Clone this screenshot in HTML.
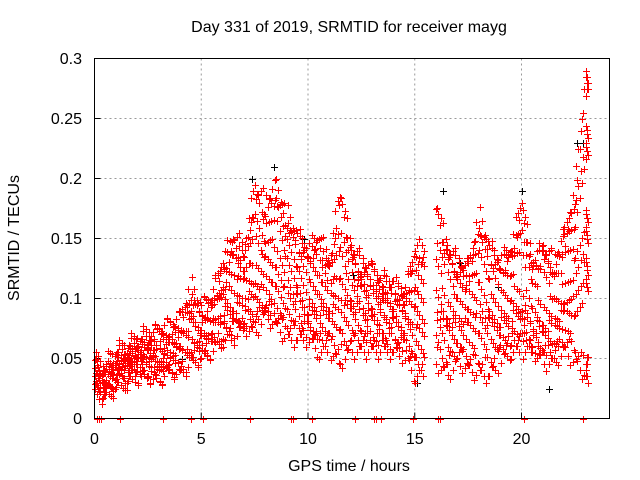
<!DOCTYPE html>
<html><head><meta charset="utf-8"><style>
body{margin:0;background:#fff;}
svg{display:block;font-family:"Liberation Sans",sans-serif;}
</style></head><body>
<svg id="chart" width="640" height="480" xmlns="http://www.w3.org/2000/svg">
<rect width="640" height="480" fill="#fff"/>
<text x="349" y="32" font-size="16" text-anchor="middle">Day 331 of 2019, SRMTID for receiver mayg</text>
<text x="349" y="471" font-size="16" text-anchor="middle">GPS time / hours</text>
<text transform="translate(19,238) rotate(-90)" font-size="16" text-anchor="middle">SRMTID / TECUs</text>
<g id="grid"></g><g id="ticks"></g><g id="pts"></g>
<rect x="94.5" y="58.5" width="515" height="360" fill="none" stroke="#000" stroke-width="1"/>
</svg>
<script>
const hours=[0,0.5,1,1.5,2,2.5,3,3.5,4,4.5,5,5.5,6,6.5,7,7.5,8,8.5,9,9.5,10,10.5,11,11.5,12,12.5,13,13.5,14,14.5,15,15.5,16,16.5,17,17.5,18,18.5,19,19.5,20,20.5,21,21.5,22,22.5,23];
const hiVals=[.05,.045,.06,.065,.07,.075,.08,.085,.09,.12,.10,.11,.14,.16,.15,.20,.19,.20,.18,.16,.15,.16,.14,.20,.15,.14,.13,.12,.12,.11,.15,null,.19,.15,.14,.13,.18,.15,.14,.15,.19,.14,.15,.14,.16,.20,.29];
const q3Vals=[.042,.04,.05,.055,.06,.065,.065,.07,.075,.09,.085,.095,.12,.13,.13,.16,.15,.17,.15,.14,.13,.13,.12,.15,.13,.12,.115,.11,.105,.10,.12,null,.14,.13,.12,.12,.14,.13,.12,.13,.15,.12,.13,.125,.14,.16,.23];
const midVals=[.035,.03,.04,.045,.05,.055,.05,.058,.062,.07,.07,.08,.10,.10,.11,.12,.125,.13,.12,.11,.10,.10,.10,.11,.105,.10,.095,.09,.09,.085,.09,null,.10,.09,.09,.095,.10,.09,.09,.095,.10,.085,.085,.09,.10,.12,.16];
const q1Vals=[.028,.025,.033,.038,.042,.045,.04,.048,.05,.055,.06,.065,.08,.08,.09,.095,.10,.10,.095,.09,.08,.08,.08,.085,.085,.08,.075,.075,.07,.07,.065,null,.08,.07,.07,.07,.075,.07,.07,.075,.08,.07,.065,.07,.08,.09,.12];
const loVals=[.02,.015,.025,.03,.03,.03,.025,.035,.03,.04,.045,.05,.06,.06,.07,.065,.08,.07,.06,.06,.06,.05,.05,.04,.05,.05,.05,.05,.05,.045,.03,null,.04,.03,.04,.035,.03,.03,.04,.05,.05,.05,.04,.04,.05,.04,.03];
const zeroHours=[0.1,0.2,0.3,1.2,3.2,4.5,5.1,7.3,9.2,9.3,10.2,12.2,13.1,13.2,13.4,14.9,16.1,16.2,20.1,22.9];
const blackHours=[0.2,4.1,6.5,7.4,8.4,9.8,12.1,15.1,16.3,17.1,18.9,20.0,21.3,22.6,22.9];
const blackVals=[.04,.05,.15,.20,.21,.15,.12,.03,.19,.13,.11,.19,.025,.23,.23];
const yTicks=[0,0.05,0.1,0.15,0.2,0.25,0.3];
const yLabels=["0","0.05","0.1","0.15","0.2","0.25","0.3"];
const xTicks=[0,5,10,15,20];
const xLabels=["0","5","10","15","20"];
const NS="http://www.w3.org/2000/svg";
const X=t=>94.5+t*21.35, Y=v=>418.5-v*1200;
function mk(tag,attrs,parent){const e=document.createElementNS(NS,tag);for(const k in attrs)e.setAttribute(k,attrs[k]);parent.appendChild(e);return e;}
const grid=document.getElementById('grid'),ticks=document.getElementById('ticks'),pts=document.getElementById('pts');
yTicks.forEach((v,i)=>{
  if(i>0&&i<yTicks.length-1){const g=mk('line',{x1:94.5,x2:609.5,y1:Y(v),y2:Y(v),stroke:'#999','stroke-dasharray':'2,3'},grid);
  
  }
  const l=mk('line',{x1:94.5,x2:100.5,y1:Y(v),y2:Y(v),stroke:'#000'},ticks);
  
  
  const t=mk('text',{x:82,y:Y(v)+5.5,'font-size':16,'text-anchor':'end'},ticks);t.textContent=yLabels[i];
  
  
});
xTicks.forEach((h,i)=>{
  if(i>0){const g=mk('line',{x1:X(h),x2:X(h),y1:58.5,y2:418.5,stroke:'#999','stroke-dasharray':'2,3'},grid);
  
  }
  const l=mk('line',{x1:X(h),x2:X(h),y1:418.5,y2:412.5,stroke:'#000'},ticks);
  
  
  const t=mk('text',{x:X(h),y:444,'font-size':16,'text-anchor':'middle'},ticks);t.textContent=xLabels[i];
  
  
});
function plus(t,v,col,name){
  const x=Math.round(X(t))+0.5,y=Math.round(Y(v))+0.5;
  const p=mk('path',{d:`M${x-3.5} ${y}h7M${x} ${y-3.5}v7`,stroke:col,'stroke-width':1,fill:'none'},pts);
  
  
}
blackHours.forEach((h,i)=>plus(h,blackVals[i],'#000','black-point'));
const series=[hiVals,q3Vals,midVals,q1Vals,loVals];
const NOFF=9;
hours.forEach((h,i)=>{
  const last=(i===hours.length-1);
  series.forEach((arr,s)=>{
    const v=arr[i]; if(v==null)return;
    const next=(i+1<hours.length&&arr[i+1]!=null)?arr[i+1]:v;
    for(let k=0;k<NOFF;k++){
      let o=((k*4+s*2)%NOFF)/NOFF*0.5;
      if(last)o=o*0.25;
      const jit=(((k*7+s*3+i*5)%9)-4)*0.0035;
      const base=v+(next-v)*(o/0.5);
      const val=s===0?base-Math.abs(jit)*1.5:(s===4?base+Math.abs(jit)*1.5:base+jit);
      plus(h+o,Math.max(0.012,val),'#f00','srmtid-point');
    }
  });
});
zeroHours.forEach(h=>plus(h,0,'#f00','zero-point'));
</script>
</body></html>
